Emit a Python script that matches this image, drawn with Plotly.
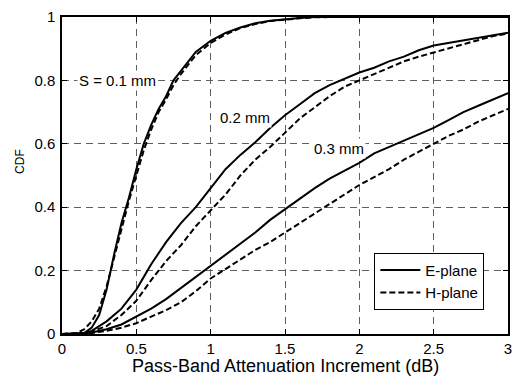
import plotly.graph_objects as go

# ---- data ----
x_e01 = [0, 0.1, 0.15, 0.2, 0.25, 0.3, 0.35, 0.4, 0.45, 0.5, 0.55, 0.6, 0.65, 0.7, 0.75, 0.8, 0.85, 0.9, 1.0, 1.1, 1.2, 1.3, 1.4, 1.5, 1.6, 1.7, 3.0]
y_e01 = [0, 0.0, 0.003, 0.02, 0.06, 0.14, 0.25, 0.35, 0.43, 0.52, 0.6, 0.66, 0.71, 0.75, 0.8, 0.83, 0.86, 0.89, 0.925, 0.95, 0.967, 0.98, 0.988, 0.993, 0.997, 1.0, 1.0]

x_h01 = [0, 0.1, 0.15, 0.2, 0.25, 0.3, 0.35, 0.4, 0.45, 0.5, 0.55, 0.6, 0.65, 0.7, 0.75, 0.8, 0.85, 0.9, 1.0, 1.1, 1.2, 1.3, 1.4, 1.5, 1.6, 1.7, 1.8, 3.0]
y_h01 = [0, 0.003, 0.015, 0.04, 0.08, 0.15, 0.24, 0.33, 0.42, 0.5, 0.58, 0.645, 0.7, 0.74, 0.785, 0.82, 0.85, 0.88, 0.918, 0.945, 0.965, 0.978, 0.987, 0.992, 0.996, 0.999, 1.0, 1.0]

x_s = [0, 0.1, 0.15, 0.2, 0.3, 0.4, 0.5, 0.6, 0.7, 0.8, 0.9, 1.0, 1.1, 1.2, 1.3, 1.4, 1.5, 1.6, 1.7, 1.8, 1.9, 2.0, 2.1, 2.2, 2.3, 2.4, 2.5, 2.6, 2.7, 2.8, 2.9, 3.0]
y_e02 = [0, 0, 0.002, 0.01, 0.04, 0.08, 0.14, 0.22, 0.29, 0.35, 0.4, 0.46, 0.52, 0.565, 0.605, 0.65, 0.69, 0.725, 0.76, 0.785, 0.805, 0.825, 0.84, 0.86, 0.875, 0.895, 0.91, 0.918, 0.925, 0.933, 0.942, 0.95]
y_h02 = [0, 0, 0.003, 0.008, 0.025, 0.06, 0.105, 0.17, 0.23, 0.28, 0.34, 0.39, 0.44, 0.5, 0.55, 0.59, 0.635, 0.68, 0.715, 0.75, 0.78, 0.80, 0.82, 0.84, 0.86, 0.875, 0.888, 0.903, 0.915, 0.928, 0.94, 0.948]
y_e03 = [0, 0, 0.002, 0.005, 0.015, 0.03, 0.055, 0.08, 0.11, 0.145, 0.18, 0.216, 0.25, 0.285, 0.32, 0.36, 0.393, 0.425, 0.46, 0.49, 0.515, 0.54, 0.57, 0.59, 0.61, 0.63, 0.65, 0.675, 0.70, 0.72, 0.74, 0.76]
y_h03 = [0, 0, 0.001, 0.003, 0.01, 0.02, 0.034, 0.055, 0.075, 0.1, 0.135, 0.175, 0.205, 0.235, 0.265, 0.29, 0.32, 0.35, 0.38, 0.41, 0.44, 0.47, 0.495, 0.52, 0.55, 0.575, 0.60, 0.625, 0.645, 0.67, 0.69, 0.71]

x_ticks = [0, 0.5, 1, 1.5, 2, 2.5, 3]
x_ticklabels = ["0", "0.5", "1", "1.5", "2", "2.5", "3"]
y_ticks = [0, 0.2, 0.4, 0.6, 0.8, 1]
y_ticklabels = ["0", "0.2", "0.4", "0.6", "0.8", "1"]

labels = ["S = 0.1 mm", "0.2 mm", "0.3 mm"]
label_x = [0.373, 1.23, 1.86]
label_y = [0.8, 0.682, 0.585]

FONT = "Liberation Sans, Arial, sans-serif"
solid = dict(color="black", width=2)
dashed = dict(color="black", width=2, dash="6px,3px")

fig = go.Figure()
fig.add_trace(go.Scatter(x=x_e01, y=y_e01, mode="lines", line=solid, name="E-plane", legendgroup="E", showlegend=True))
fig.add_trace(go.Scatter(x=x_h01, y=y_h01, mode="lines", line=dashed, name="H-plane", legendgroup="H", showlegend=True))
fig.add_trace(go.Scatter(x=x_s, y=y_e02, mode="lines", line=solid, name="E-plane", legendgroup="E", showlegend=False))
fig.add_trace(go.Scatter(x=x_s, y=y_h02, mode="lines", line=dashed, name="H-plane", legendgroup="H", showlegend=False))
fig.add_trace(go.Scatter(x=x_s, y=y_e03, mode="lines", line=solid, name="E-plane", legendgroup="E", showlegend=False))
fig.add_trace(go.Scatter(x=x_s, y=y_h03, mode="lines", line=dashed, name="H-plane", legendgroup="H", showlegend=False))

for t, lx, ly in zip(labels, label_x, label_y):
    fig.add_annotation(x=lx, y=ly, xref="x", yref="y", text=t, showarrow=False,
                       font=dict(family=FONT, size=15, color="black"), bgcolor="white", borderpad=1)

fig.add_annotation(x=0.5, y=-0.1, xref="paper", yref="paper", text="Pass-Band Attenuation Increment (dB)",
                   showarrow=False, xanchor="center", yanchor="middle",
                   font=dict(family=FONT, size=18, color="black"))
fig.add_annotation(x=-0.0956, y=0.544, xref="paper", yref="paper", text="CDF", textangle=-90,
                   showarrow=False, xanchor="center", yanchor="middle",
                   font=dict(family=FONT, size=12, color="black"))

axis_common = dict(showline=True, linecolor="black", linewidth=1.5, mirror="ticks",
                   ticks="inside", ticklen=5, tickwidth=1, tickcolor="black",
                   showgrid=True, gridcolor="#606060", gridwidth=1, griddash="7px,5px",
                   zeroline=False, tickfont=dict(family=FONT, size=15, color="black"))

fig.update_xaxes(range=[0, 3], tickvals=x_ticks, ticktext=x_ticklabels, **axis_common)
fig.update_yaxes(range=[0, 1], tickvals=y_ticks, ticktext=y_ticklabels, ticklabelstandoff=2, **axis_common)

fig.update_layout(
    width=520, height=376,
    margin=dict(l=62, r=8, t=14, b=42),
    paper_bgcolor="white", plot_bgcolor="white",
    font=dict(family=FONT, color="black"),
    legend=dict(x=0.947, y=0.256, xanchor="right", yanchor="top",
                bgcolor="white", bordercolor="black", borderwidth=1,
                font=dict(family=FONT, size=15, color="black"),
                tracegroupgap=0, itemwidth=40),
)

fig.write_html("out.html")
